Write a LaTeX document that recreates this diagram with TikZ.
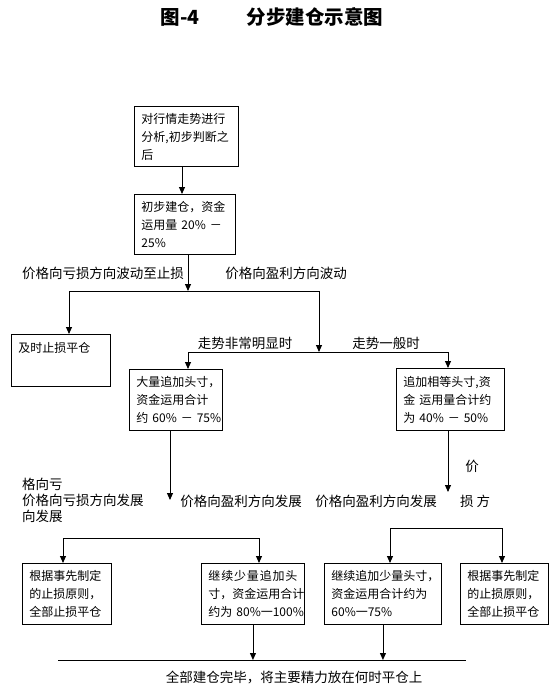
\documentclass[tikz,border=0pt]{standalone}
\usepackage{fontspec}
\setmainfont{Noto Sans CJK SC}
\usepackage{tikz}
\usetikzlibrary{arrows.meta}
\tikzstyle{arrow} = [line width=0.9pt,->,>={Triangle[length=7pt,width=6pt]},draw=black]
\tikzstyle{box} = [draw, line width=0.9pt, rectangle, anchor=north west, inner xsep=7pt, inner ysep=0pt, align=left, font=\fontsize{12}{18}\selectfont]
\tikzstyle{lbl} = [inner sep=0pt, font=\fontsize{13.5}{16}\selectfont]

\begin{document}
\begin{tikzpicture}[x=1pt, y=-1pt]
        \useasboundingbox (0,0) rectangle (560,686);
        \node (T) at (272,17) {\fontsize{19.5}{20}\selectfont\bfseries 图-4\hspace{47pt}分步建仓示意图};

        \node (A) [box, text width=90pt, minimum height=60pt] at (134,106) {对行情走势进行\\分析,初步判断之\\后};
        \node (B) [box, text width=87pt, minimum height=60pt] at (134,194) {初步建仓，资金\\运用量~20\%~－\\25\%};
        \node (C) [box, text width=85pt, text height=18pt, text depth=34pt] at (11,334) {及时止损平仓};
        \node (D) [box, text width=79pt, minimum height=61pt] at (129,369) {大量追加头寸，\\资金运用合计\\约~60\%~－~75\%};
        \node (E) [box, text width=94pt, minimum height=62pt] at (396,368) {追加相等头寸,资\\金~运用量合计约\\为~40\%~－~50\%};
        \node (F) [box, text width=75pt, minimum height=61pt] at (22,563) {根据事先制定\\的止损原则，\\全部止损平仓};
        \node (G) [box, text width=89pt, minimum height=61pt] at (201,563) {\makebox[89pt][s]{继\hfill 续\hfill 少\hfill 量\hfill 追\hfill 加\hfill 头}\\寸，资金运用合计\\约为~80\%一100\%};
        \node (H) [box, text width=103pt, minimum height=61pt] at (324,563) {继续追加少量头寸，\\资金运用合计约为\\60\%一75\%};
        \node (I) [box, text width=74pt, minimum height=61pt] at (460,563) {根据事先制定\\的止损原则，\\全部止损平仓};

        \node (L1) [lbl] at (103,273) {价格向亏损方向波动至止损};
        \node (L2) [lbl] at (286,273) {价格向盈利方向波动};
        \node (L3) [lbl] at (245,343) {走势非常明显时};
        \node (L4) [lbl] at (386,343) {走势一般时};
        \node (L5) [lbl, anchor=west, align=left] at (22,500) {格向亏\\价格向亏损方向发展\\向发展};
        \node (L6) [lbl] at (241,501) {价格向盈利方向发展};
        \node (L7) [lbl] at (376,501) {价格向盈利方向发展};
        \node (L8) [lbl] at (472,466) {价};
        \node (L9) [lbl, anchor=west] at (460,501) {损 方};
        \node (L10) [lbl] at (294,677) {全部建仓完毕，将主要精力放在何时平仓上};

        \coordinate (j1) at (188,291);
        \coordinate (j2) at (319,352);
        \coordinate (e1) at (170,500);
        \coordinate (e2) at (448,492);
        \coordinate (k1) at (259,538);
        \coordinate (k2) at (502,528);
        \coordinate (m1) at (58,660);
        \coordinate (m2) at (466,660);

        \draw[arrow] (A.south -| 182,0) -- (B.north -| 182,0);
        \draw[arrow] (B.south -| j1) -- (j1);
        \draw[arrow] (j1) -| (C.north -| 69,0);
        \draw[arrow] (j1) -| (j2);
        \draw[arrow] (j2) -| (D.north -| j1);
        \draw[arrow] (j2) -| (E.north -| e2);
        \draw[arrow] (D.south -| e1) -- (e1);
        \draw[arrow] (E.south -| e2) -- (e2);
        \draw[arrow, <->] (F.north -| 63,0) |- (k1) -- (G.north -| k1);
        \draw[arrow, <->] (H.north -| 390,0) |- (k2) -- (I.north -| k2);
        \draw[line width=0.9pt] (m1) -- (m2);
        \draw[arrow] (G.south) -- (G.south |- m1);
        \draw[arrow] (H.south) -- (H.south |- m1);
\end{tikzpicture}
\end{document}
